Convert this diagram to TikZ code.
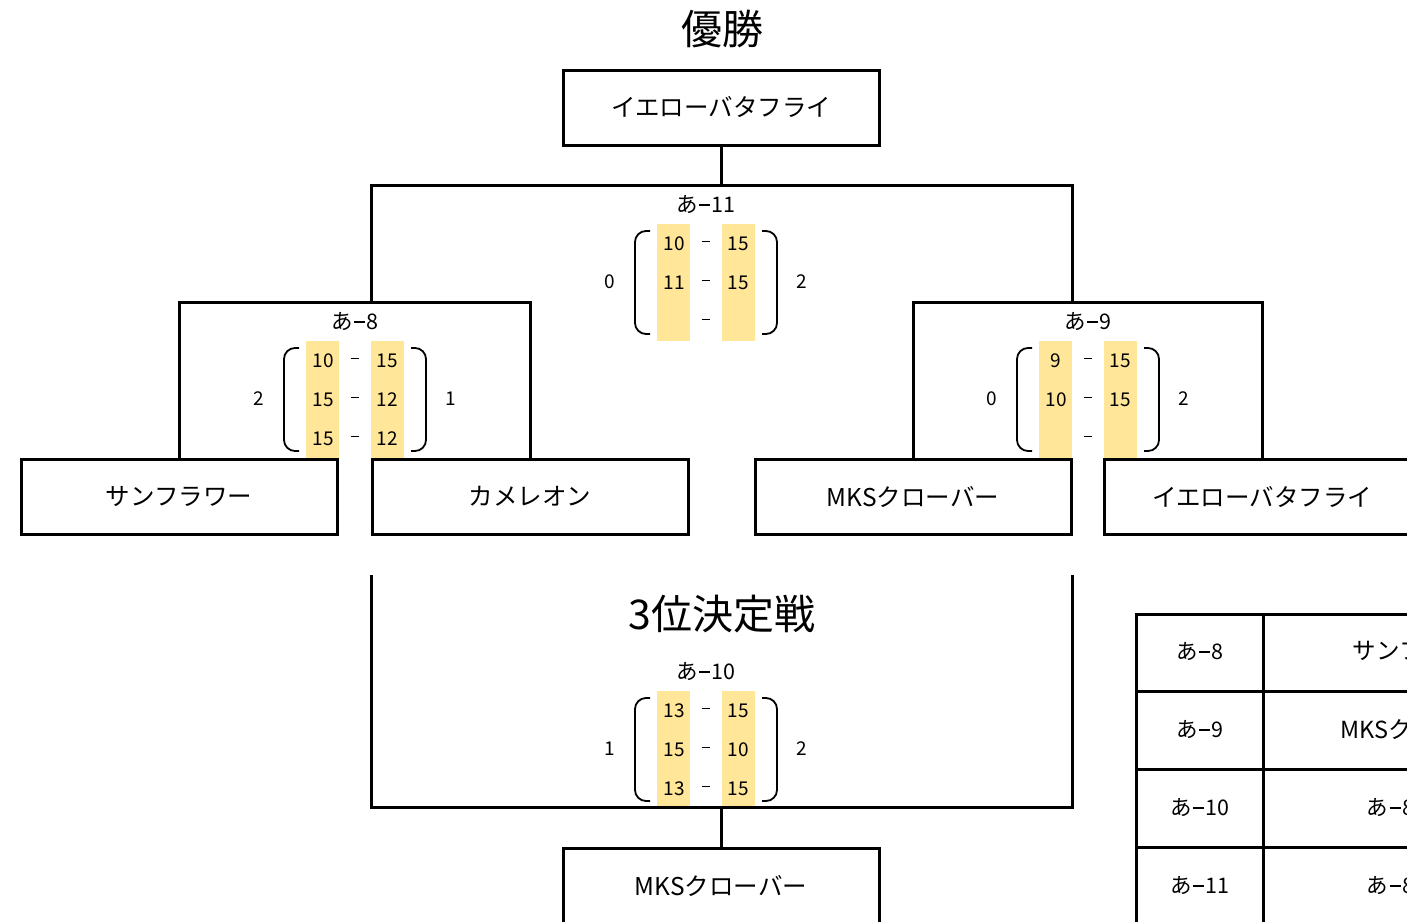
\documentclass[tikz,border=0pt]{standalone}
\usepackage{fontspec}
\setmainfont{Noto Sans CJK JP}
\definecolor{scorefill}{HTML}{FFE699}

%% Bindestrich wie im Original
\newcommand{\strich}{\kern0.08em\rule[0.3em]{0.5em}{0.075em}\kern0.08em}
\newcommand{\kurzstrich}{\rule[0.3em]{0.45em}{0.06em}}

\tikzset{
	title/.style={font=\fontsize{41}{48}\selectfont, inner sep=0pt},
	team/.style={draw, line width=3pt, minimum width=316pt, minimum height=75pt, inner sep=0pt, font=\fontsize{24.5}{28}\selectfont},
	bracket/.style={line width=3pt},
	paren/.style={line width=1.8pt, rounded corners=11pt},
	matchlabel/.style={font=\fontsize{21.5}{24}\selectfont, inner sep=0pt},
	score/.style={font=\fontsize{19}{22}\selectfont, inner sep=0pt},
	tabline/.style={line width=3pt},
}

%% Spielergebnis: id, x, y, Name, Saetze links, Saetze rechts, Punkte
\newcommand{\matchscore}[7]{%
\begin{scope}[shift={(#2,#3)}]
	\fill[scorefill] (-49,20) rectangle (-16,137);
	\fill[scorefill] (16,20) rectangle (49,137);
	\draw[paren] (-56,27) -| (-71,130) -- (-56,130);
	\draw[paren] (56,27) -| (71,130) -- (56,130);
	\node[matchlabel] (#1) at (0,0) {#4};
	\node[score] (#1-sl) at (-96,78) {#5};
	\node[score] (#1-sr) at (96,78) {#6};
	\foreach \a/\b [count=\i] in {#7} {
		\node[score] (#1-l\i) at (-32,1+39*\i) {\a};
		\node[score] (#1-d\i) at (0,1+39*\i) {\kurzstrich};
		\node[score] (#1-r\i) at (32,1+39*\i) {\b};
	}
\end{scope}}

\begin{document}
\begin{tikzpicture}[x=1pt, y=-1pt]
\useasboundingbox (0,0) rectangle (1407,921);
\clip (0,0) rectangle (1407,921);

	%% Titel
	\node[title] (wintitle) at (722,29) {優勝};
	\node[title] (thirdtitle) at (722,614) {3位決定戦};

	%% Mannschaften
	\node[team] (champ) at (721,107.5) {イエローバタフライ};
	\node[team] (sun) at (179,496.5) {サンフラワー};
	\node[team] (cham) at (530,496.5) {カメレオン};
	\node[team] (mks) at (913,496.5) {MKSクローバー};
	\node[team] (yellow) at (1262,496.5) {イエローバタフライ};
	\node[team] (third) at (721,885.5) {MKSクローバー};

	%% Ergebnisse
	\matchscore{a8}{355}{321}{あ\strich 8}{2}{1}{10/15, 15/12, 15/12}
	\matchscore{a9}{1088}{321}{あ\strich 9}{0}{2}{9/15, 10/15, {}/{}}
	\matchscore{a11}{706}{204}{あ\strich 11}{0}{2}{10/15, 11/15, {}/{}}
	\matchscore{a10}{706}{671}{あ\strich 10}{1}{2}{13/15, 15/10, 13/15}

	%% Turnierbaum
	\coordinate (m8) at (355,302);
	\coordinate (m9) at (1088,302);
	\draw[bracket] (sun.north) |- (m8) -| (cham.north);
	\draw[bracket] (mks.north) |- (m9) -| (yellow.north);
	\coordinate (l11) at (371,302);
	\coordinate (r11) at (1072,302);
	\coordinate (m11) at (721,185);
	\draw[bracket] (l11) |- (m11) -| (r11);
	\draw[bracket] (champ.south) -- (m11);
	%%%%%%%%%%%%%%%%

	%% Spiel um Platz 3
	\coordinate (l10) at (371,575);
	\coordinate (r10) at (1072,575);
	\coordinate (m10) at (721,807);
	\draw[bracket] (l10) |- (m10) -| (r10);
	\draw[bracket] (m10) -- (third.north);

	%% Tabelle
	\foreach \y in {614,691,769,847}
		\draw[tabline] (1136,\y) -- (1620,\y);
	\draw[tabline] (1136,612.5) -- (1136,930);
	\draw[tabline] (1263,612.5) -- (1263,930);
	\foreach \k/\t/\s [count=\i] in {8/サンフラワー/23.5, 9/MKSクローバー/23.5, 10/あ\strich 8の敗者/21.5, 11/あ\strich 8の勝者/21.5} {
		\node[matchlabel] (key\i) at (1200,573+78*\i) {あ\strich\k};
		\node[matchlabel, font=\fontsize{\s}{26}\selectfont] (team\i) at (1423,573+78*\i) {\t};
	}

\end{tikzpicture}
\end{document}
